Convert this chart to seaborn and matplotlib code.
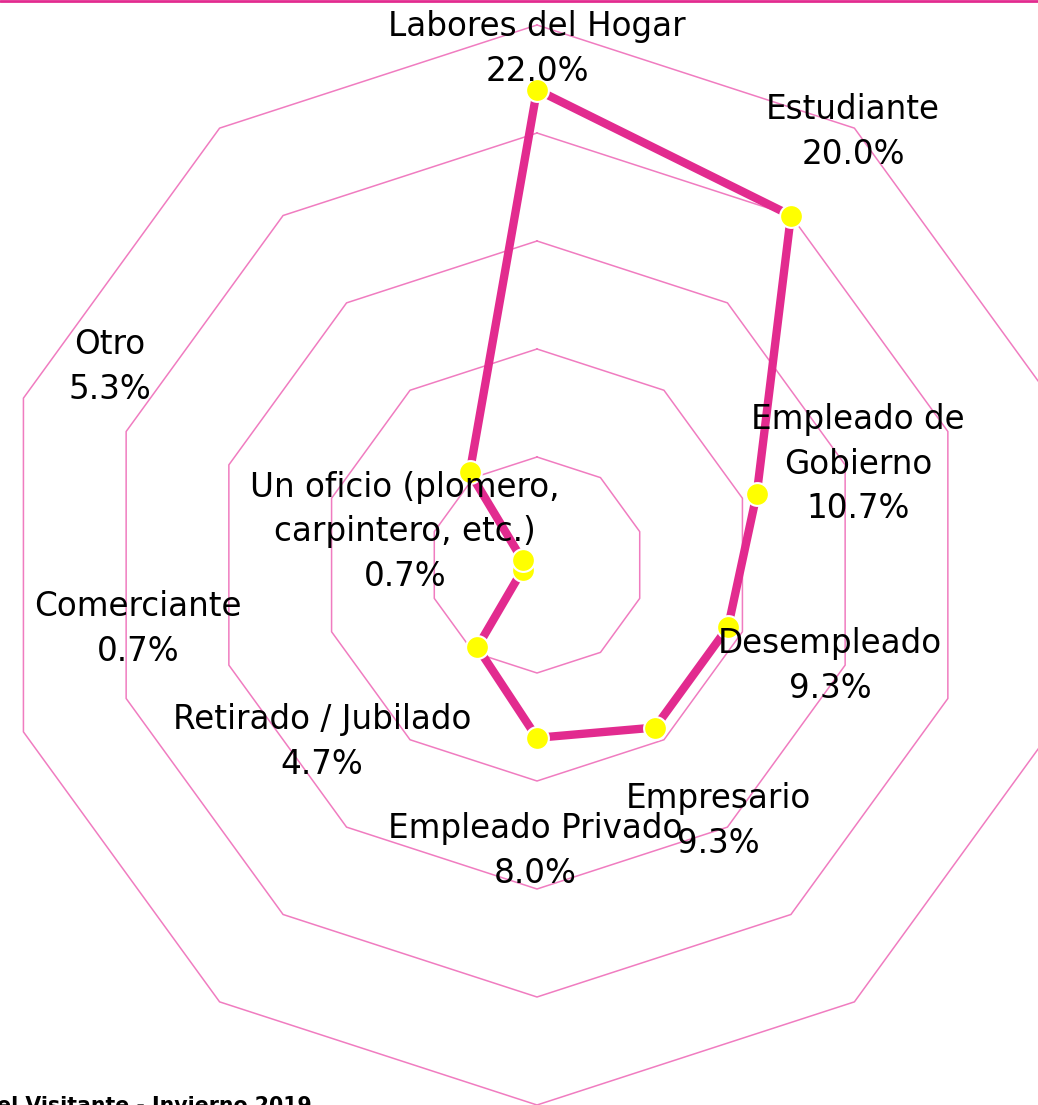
import numpy as np
import pandas as pd
import seaborn as sns
import matplotlib
matplotlib.use("Agg")
import matplotlib.pyplot as plt

# Data (clockwise from top)
categories = ["Labores del Hogar", "Estudiante", "Empleado de Gobierno", "Desempleado",
              "Empresario", "Empleado Privado", "Retirado / Jubilado", "Comerciante",
              "Un oficio", "Otro"]
values = [22.0, 20.0, 10.7, 9.3, 9.3, 8.0, 4.7, 0.7, 0.7, 5.3]
ring_levels = [5, 10, 15, 20, 25]

# label texts and where they sit (pixel positions)
label_texts = ["Labores del Hogar\n22.0%", "Estudiante\n20.0%", "Empleado de\nGobierno\n10.7%",
               "Desempleado\n9.3%", "Empresario\n9.3%", "Empleado Privado\n8.0%",
               "Retirado / Jubilado\n4.7%", "Comerciante\n0.7%",
               "Un oficio (plomero,\ncarpintero, etc.)\n0.7%", "Otro\n5.3%"]
label_px = [(537, 49), (853, 132), (858, 464), (830, 666), (718, 821), (535, 851),
            (322, 742), (138, 629), (405, 532), (110, 367)]

line_color = "#e22b8f"
grid_color = "#f07cc0"

W, H = 1038, 1105
cx, cy, R = 537, 565, 540
scale = 25 / R  # data units per pixel

def px_to_data(px, py):
    return (px - cx) * scale, (cy - py) * scale

sns.set_theme(style="white")
plt.rcParams['font.family'] = ['DejaVu Sans']

fig = plt.figure(figsize=(W / 100, H / 100), dpi=100, facecolor="white")
ax = fig.add_axes([0, 0, 1, 1])
ax.set_xlim(-cx * scale, (W - cx) * scale)
ax.set_ylim((cy - H) * scale, cy * scale)
ax.axis("off")

n = len(categories)
angles = np.arange(n) * 2 * np.pi / n

# decagon grid rings
for lv in ring_levels:
    a = np.append(angles, angles[0])
    ax.plot(lv * np.sin(a), lv * np.cos(a), color=grid_color, lw=1.1, zorder=1)

# data polygon
df = pd.DataFrame({"category": categories, "value": values, "angle": angles})
df["x"] = df["value"] * np.sin(df["angle"])
df["y"] = df["value"] * np.cos(df["angle"])
closed = pd.concat([df, df.iloc[[0]]], ignore_index=True)
sns.lineplot(data=closed, x="x", y="y", sort=False, estimator=None, color=line_color,
             lw=6, ax=ax, zorder=3, legend=False)
sns.scatterplot(data=df, x="x", y="y", color="#ffff00", s=270, edgecolor="white",
                linewidth=1.5, ax=ax, zorder=4, legend=False)

for txt, (px, py) in zip(label_texts, label_px):
    x, y = px_to_data(px, py)
    ax.text(x, y, txt, ha="center", va="center", fontsize=23.5, color="black",
            linespacing=1.45, zorder=5)

# top rule and cut-off footer
ax.axhline(cy * scale - 0.5 * scale, color=line_color, lw=2, zorder=6)
fx, fy = px_to_data(312, 1112)
ax.text(fx, fy, "Perfil del Visitante - Invierno 2019", ha="right", va="baseline",
        fontsize=14.8, fontweight="bold", color="black", zorder=6)

ax.set_xlabel("")
ax.set_ylabel("")
fig.savefig("out.png", dpi=100, facecolor="white")
